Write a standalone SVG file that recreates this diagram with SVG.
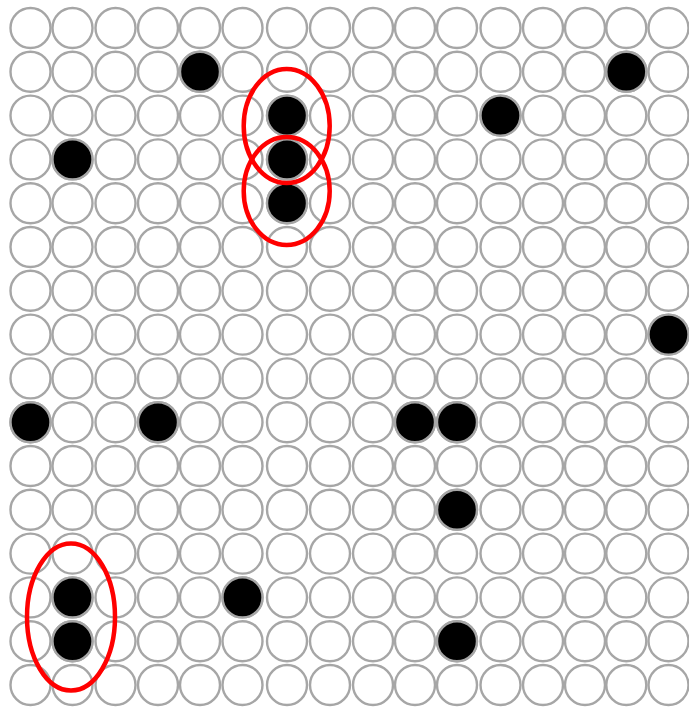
<svg xmlns="http://www.w3.org/2000/svg" xmlns:xlink="http://www.w3.org/1999/xlink" width="689" height="709" viewBox="0 0 689 709">
<style>
.c{fill:#fff;stroke:#a6a6a6;stroke-width:2.4}
.b{fill:#000;stroke:#a6a6a6;stroke-width:2.4}
.r{fill:none;stroke:#ff0000;stroke-width:4.5}
</style>
<defs>
<circle id="o" r="20" class="c"/>
<g id="row">
<use xlink:href="#o" x="30.5"/><use xlink:href="#o" x="72.5"/><use xlink:href="#o" x="115.5"/><use xlink:href="#o" x="158"/>
<use xlink:href="#o" x="200"/><use xlink:href="#o" x="242.5"/><use xlink:href="#o" x="287"/><use xlink:href="#o" x="330"/>
<use xlink:href="#o" x="373"/><use xlink:href="#o" x="415"/><use xlink:href="#o" x="457"/><use xlink:href="#o" x="500.5"/>
<use xlink:href="#o" x="543"/><use xlink:href="#o" x="585"/><use xlink:href="#o" x="626.3"/><use xlink:href="#o" x="668.5"/>
</g>
</defs>
<rect width="689" height="709" fill="#fff"/>
<g id="grid">
<use xlink:href="#row" y="28"/><use xlink:href="#row" y="71.8"/><use xlink:href="#row" y="115.6"/><use xlink:href="#row" y="159.4"/>
<use xlink:href="#row" y="203.2"/><use xlink:href="#row" y="247"/><use xlink:href="#row" y="290.8"/><use xlink:href="#row" y="334.6"/>
<use xlink:href="#row" y="378.4"/><use xlink:href="#row" y="422.2"/><use xlink:href="#row" y="466"/><use xlink:href="#row" y="509.8"/>
<use xlink:href="#row" y="553.6"/><use xlink:href="#row" y="597.4"/><use xlink:href="#row" y="641.2"/><use xlink:href="#row" y="685"/>
</g>
<g id="filled">
<circle class="b" r="20" cx="200" cy="71.8"/>
<circle class="b" r="20" cx="626.3" cy="71.8"/>
<circle class="b" r="20" cx="500.5" cy="115.6"/>
<circle class="b" r="20" cx="72.5" cy="159.4"/>
<circle class="b" r="20" cx="668.5" cy="334.6"/>
<circle class="b" r="20" cx="30.5" cy="422.2"/>
<circle class="b" r="20" cx="158" cy="422.2"/>
<circle class="b" r="20" cx="415" cy="422.2"/>
<circle class="b" r="20" cx="457" cy="422.2"/>
<circle class="b" r="20" cx="457" cy="509.8"/>
<circle class="b" r="20" cx="242.5" cy="597.4"/>
<circle class="b" r="20" cx="457" cy="641.2"/>
<circle class="b" r="20" cx="72.5" cy="597.4"/>
<circle class="b" r="20" cx="72.5" cy="641.2"/>
<circle class="b" r="20" cx="287" cy="115.6"/>
<circle class="b" r="20" cx="287" cy="159.4"/>
<circle class="b" r="20" cx="287" cy="203.2"/>
</g>
<g id="highlights">
<ellipse class="r" cx="286.7" cy="126" rx="43" ry="57"/>
<ellipse class="r" cx="286.7" cy="191" rx="43" ry="54"/>
<ellipse class="r" cx="71" cy="617" rx="44" ry="73.5"/>
</g>
</svg>
